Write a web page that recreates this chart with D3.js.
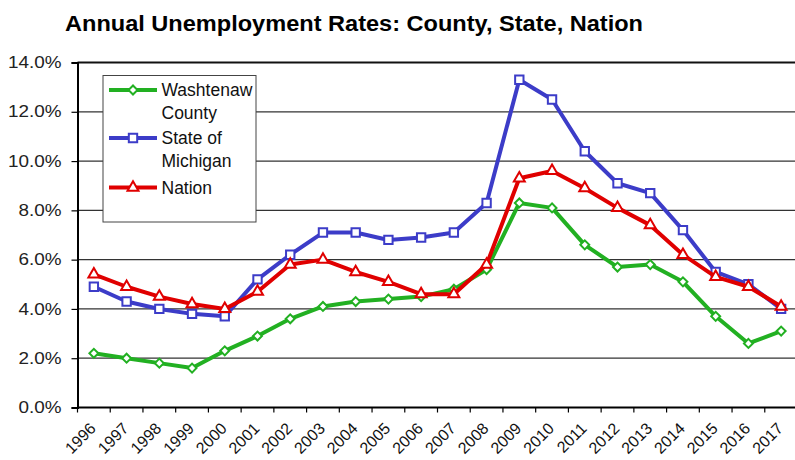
<!DOCTYPE html>
<html>
<head>
<meta charset="utf-8">
<script src="https://cdn.jsdelivr.net/npm/d3@7"></script>
<style>
  body { margin: 0; background: #fff; }
  svg { display: block; font-family: "Liberation Sans", Arial, sans-serif; }
</style>
</head>
<body>
<svg width="795" height="460"></svg>
<script>
// data
const years = ["1996","1997","1998","1999","2000","2001","2002","2003","2004","2005","2006",
               "2007","2008","2009","2010","2011","2012","2013","2014","2015","2016","2017"];
const washtenaw = [2.2, 2.0, 1.8, 1.6, 2.3, 2.9, 3.6, 4.1, 4.3, 4.4, 4.5,
                   4.8, 5.6, 8.3, 8.1, 6.6, 5.7, 5.8, 5.1, 3.7, 2.6, 3.1];
const michigan = [4.9, 4.3, 4.0, 3.8, 3.7, 5.2, 6.2, 7.1, 7.1, 6.8, 6.9,
                  7.1, 8.3, 13.3, 12.5, 10.4, 9.1, 8.7, 7.2, 5.5, 5.0, 4.0];
const nation = [5.4, 4.9, 4.5, 4.2, 4.0, 4.7, 5.8, 6.0, 5.5, 5.1, 4.6,
                4.6, 5.8, 9.3, 9.6, 8.9, 8.1, 7.4, 6.2, 5.3, 4.9, 4.1];
const yTicks = [0, 2, 4, 6, 8, 10, 12, 14];

const series = [
  { name: ["Washtenaw", "County"], values: washtenaw, color: "#22b022", symbol: d3.symbolSquare, size: 40, rot: 45 },
  { name: ["State of", "Michigan"], values: michigan, color: "#3c3cc8", symbol: d3.symbolSquare, size: 70, rot: 0 },
  { name: ["Nation"], values: nation, color: "#e00000", symbol: d3.symbolTriangle, size: 52, rot: 0 }
];

const svg = d3.select("svg");
const plot = { left: 77.5, right: 797.5, top: 62.5, bottom: 407.5 };

const x = d3.scaleBand().domain(years).range([plot.left, plot.right]);
const y = d3.scaleLinear().domain([0, 14]).range([plot.bottom, plot.top]);
const cx = d => x(d) + x.bandwidth() / 2;

// title
svg.append("text")
    .attr("x", 65).attr("y", 31)
    .attr("font-size", 22.5).attr("font-weight", "bold")
    .attr("textLength", 578).attr("lengthAdjust", "spacingAndGlyphs")
    .text("Annual Unemployment Rates: County, State, Nation");

// gridlines
svg.append("g")
    .selectAll("line")
    .data(yTicks.filter(t => t > 0))
    .join("line")
    .attr("x1", plot.left).attr("x2", plot.right)
    .attr("y1", d => y(d)).attr("y2", d => y(d))
    .attr("stroke", d => d === 14 ? "#111" : "#333")
    .attr("stroke-width", d => d === 14 ? 2 : 1.2);

// y axis
const yAxis = svg.append("g")
    .attr("transform", `translate(${plot.left},0)`)
    .call(d3.axisLeft(y).tickValues(yTicks).tickSize(6).tickPadding(4)
        .tickFormat(d => d3.format(".1%")(d / 100)));
yAxis.select(".domain").attr("stroke", "#000").attr("stroke-width", 2);
yAxis.selectAll(".tick line").attr("stroke", "#000").attr("stroke-width", 1.2);
yAxis.selectAll(".tick text")
    .attr("font-size", 16).attr("fill", "#222")
    .attr("transform", "scale(1.18,1)")
    .attr("x", -13.5);

// x axis
svg.append("line")
    .attr("x1", plot.left).attr("x2", plot.right)
    .attr("y1", plot.bottom).attr("y2", plot.bottom)
    .attr("stroke", "#000").attr("stroke-width", 2);
svg.append("g")
    .selectAll("line")
    .data(years)
    .join("line")
    .attr("x1", d => x(d)).attr("x2", d => x(d))
    .attr("y1", plot.bottom).attr("y2", plot.bottom + 5)
    .attr("stroke", "#000").attr("stroke-width", 1.2);
svg.append("g")
    .selectAll("text")
    .data(years)
    .join("text")
    .attr("transform", d => `translate(${cx(d) + 3},${plot.bottom + 22}) rotate(-45)`)
    .attr("text-anchor", "end")
    .attr("font-size", 16).attr("fill", "#111")
    .text(d => d);

// lines and markers
const line = d3.line().x((d, i) => cx(years[i])).y(d => y(d));
series.forEach(s => {
  const g = svg.append("g");
  g.append("path")
      .attr("d", line(s.values))
      .attr("fill", "none")
      .attr("stroke", s.color)
      .attr("stroke-width", 4)
      .attr("stroke-linejoin", "round");
  g.selectAll("path.mark")
      .data(s.values)
      .join("path")
      .attr("class", "mark")
      .attr("transform", (d, i) => `translate(${cx(years[i])},${y(d)}) rotate(${s.rot})`)
      .attr("d", d3.symbol().type(s.symbol).size(s.size))
      .attr("fill", "#fff")
      .attr("stroke", s.color)
      .attr("stroke-width", 2);
});

// legend
const legend = svg.append("g");
legend.append("rect")
    .attr("x", 103).attr("y", 75.5)
    .attr("width", 153).attr("height", 146.5)
    .attr("fill", "#fff").attr("stroke", "#444").attr("stroke-width", 1);
const legendY = [90, 138, 187.5];
series.forEach((s, i) => {
  const ly = legendY[i];
  legend.append("line")
      .attr("x1", 109).attr("x2", 157)
      .attr("y1", ly).attr("y2", ly)
      .attr("stroke", s.color).attr("stroke-width", 4);
  legend.append("path")
      .attr("transform", `translate(133,${ly}) rotate(${s.rot})`)
      .attr("d", d3.symbol().type(s.symbol).size(s.size))
      .attr("fill", "#fff").attr("stroke", s.color).attr("stroke-width", 2);
  legend.append("text")
      .attr("x", 161.5).attr("y", ly + 6)
      .attr("font-size", 17.5).attr("fill", "#111")
      .selectAll("tspan")
      .data(s.name)
      .join("tspan")
      .attr("x", 161.5)
      .attr("dy", (d, j) => j === 0 ? 0 : 22.7)
      .text(d => d);
});
</script>
</body>
</html>
